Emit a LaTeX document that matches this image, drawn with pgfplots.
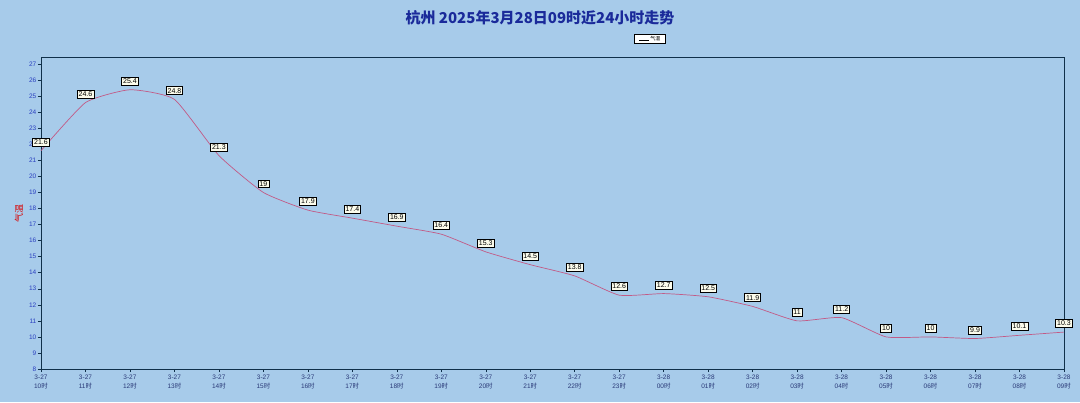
\documentclass[border=0pt]{standalone}
\usepackage{fontspec}
\setmainfont{Liberation Sans}
\newfontfamily\cjk{Noto Sans CJK SC}
\usepackage{pgfplots}
\pgfplotsset{compat=1.18}
\definecolor{bg}{HTML}{A7CBEA}
\definecolor{ln}{HTML}{C25A86}
\definecolor{tickblue}{HTML}{2A3FC0}
\definecolor{xlab}{HTML}{2A3A78}
\definecolor{axdark}{HTML}{10304A}
\definecolor{titleblue}{HTML}{1A2A9A}
\definecolor{boxfill}{HTML}{FCFCEC}
\begin{document}
\begin{tikzpicture}[x=1pt,y=1pt]
\fill[bg] (0,0) rectangle (1080,402);
\begin{axis}[
  at={(41pt,33pt)}, anchor=south west,
  scale only axis, width=1023pt, height=312pt,
  xmin=0, xmax=23, ymin=8, ymax=27.44,
  axis line style={axdark, line width=0.8pt},
  xtick={0,...,23},
  xticklabels={3-27\\10{\cjk 时},3-27\\11{\cjk 时},3-27\\12{\cjk 时},3-27\\13{\cjk 时},3-27\\14{\cjk 时},3-27\\15{\cjk 时},3-27\\16{\cjk 时},3-27\\17{\cjk 时},3-27\\18{\cjk 时},3-27\\19{\cjk 时},3-27\\20{\cjk 时},3-27\\21{\cjk 时},3-27\\22{\cjk 时},3-27\\23{\cjk 时},3-28\\00{\cjk 时},3-28\\01{\cjk 时},3-28\\02{\cjk 时},3-28\\03{\cjk 时},3-28\\04{\cjk 时},3-28\\05{\cjk 时},3-28\\06{\cjk 时},3-28\\07{\cjk 时},3-28\\08{\cjk 时},3-28\\09{\cjk 时}},
  xticklabel style={align=center, font=\fontsize{6.5}{8.5}\selectfont, text=xlab, inner sep=1pt, yshift=-2pt},
  ytick={8,...,27},
  yticklabel style={font=\fontsize{6.5}{7}\selectfont, text=tickblue, inner sep=1.5pt},
  /pgf/number format/assume math mode=true,
  tick style={axdark, line width=0.5pt},
  major tick length=3pt,
  tick align=outside,
  xtick pos=bottom, ytick pos=left,
  ylabel={\cjk 气温},
  ylabel style={font=\fontsize{9}{10}\selectfont, text=red!85!black, at={(axis description cs:-0.014,0.5)}, anchor=south},
  clip=false,
  nodes near coords,
  every node near coord/.style={font=\fontsize{7}{8}\selectfont, fill=boxfill, draw=black, line width=0.5pt, inner sep=1.5pt, anchor=south, yshift=4.5pt, text=black},
  point meta=explicit symbolic,
]
\addplot[ln, line width=0.7pt, smooth, tension=0.3, mark=none] table[meta=lab] {
x y lab
0 21.6 21.6
1 24.6 24.6
2 25.4 25.4
3 24.8 24.8
4 21.3 21.3
5 19 19
6 17.9 17.9
7 17.4 17.4
8 16.9 16.9
9 16.4 16.4
10 15.3 15.3
11 14.5 14.5
12 13.8 13.8
13 12.6 12.6
14 12.7 12.7
15 12.5 12.5
16 11.9 11.9
17 11 11
18 11.2 11.2
19 10 10
20 10 10
21 9.9 9.9
22 10.1 10.1
23 10.3 10.3
};
\end{axis}
\node[font=\cjk\bfseries\fontsize{15}{16}\selectfont, text=titleblue] at (540,384) {杭州 2025年3月28日09时近24小时走势};
\node[draw=black, fill=white, line width=0.5pt, inner sep=1pt, font=\cjk\fontsize{5}{6}\selectfont, minimum width=31pt, minimum height=9pt] at (649.5,363) {\tikz\draw[black,line width=0.5pt] (0,0) -- (10pt,0); 气温};
\pgfresetboundingbox
\path (0,0) rectangle (1080,402);
\end{tikzpicture}
\end{document}
